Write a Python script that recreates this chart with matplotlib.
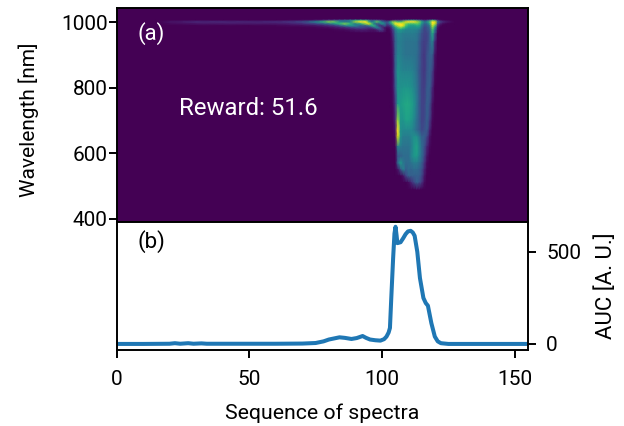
import numpy as np
import matplotlib
matplotlib.use("Agg")
import matplotlib.pyplot as plt

plt.rcParams['font.family'] = ['Roboto', 'DejaVu Sans']

band_wl = [1006, 1000, 994, 988, 982, 976, 970]
band_seq = [15, 20, 30, 40, 50, 60, 65, 70, 75, 78, 80, 82, 84, 86, 88, 90, 92, 94, 95, 96, 97, 98, 99, 100, 101, 102]
band_vals = [
    [0, 0, 0, 0, 0, 0, 0],
    [0, .05, .02, 0, 0, 0, 0],
    [0, .11, .05, 0, 0, 0, 0],
    [0, .11, .06, 0, 0, 0, 0],
    [0, .1, .06, 0, 0, 0, 0],
    [0, .12, .06, .01, 0, 0, 0],
    [.01, .15, .08, .02, 0, 0, 0],
    [.02, .22, .12, .03, 0, 0, 0],
    [.05, .45, .2, .05, .01, 0, 0],
    [.1, .65, .28, .08, .02, 0, 0],
    [.15, .8, .35, .12, .03, 0, 0],
    [.2, .75, .5, .15, .05, .01, 0],
    [.25, .5, .65, .25, .07, .02, 0],
    [.3, .4, .8, .4, .1, .03, 0],
    [.4, .45, .65, .5, .15, .05, .01],
    [.5, .85, .4, .45, .2, .07, .02],
    [.6, 1, .6, .28, .22, .08, .03],
    [.5, 1, .85, .28, .18, .08, .03],
    [.35, .7, .95, .4, .15, .06, .02],
    [.2, .4, .75, .6, .15, .05, .02],
    [.2, .55, .4, .65, .3, .05, .02],
    [.2, .75, .25, .4, .45, .1, .02],
    [.15, .65, .3, .15, .35, .22, .04],
    [.1, .4, .55, .12, .15, .2, .05],
    [.05, .3, .4, .3, .05, .08, .02],
    [0, .25, .2, .1, .02, 0, 0],
]

plume_seq = list(range(102, 128))
plume_wl = [1006, 1000, 994, 988, 982, 976, 965, 940, 900, 850, 800, 750, 700, 670, 650, 620, 590, 570, 550, 530, 510, 490]
plume_vals = [
    [0, 0, .05, .1, .1, .1, .2, .3, .4, .5, .5, .4, .3, .2, .1, .15, .3, .6, .4, .1, .03, .01, 0, 0, 0, 0],
    [.25, .5, .8, .8, .7, .7, .8, .95, 1, 1, 1, .9, .8, .6, .4, .5, .7, 1, .95, .35, .2, .12, .08, .05, .03, .01],
    [.2, .4, .7, 1, 1, 1, .95, .8, .7, .7, .7, .75, .7, .5, .3, .35, .6, 1, .9, .2, .08, .03, .01, 0, 0, 0],
    [.1, .15, .4, .75, .9, 1, .95, .7, .6, .55, .55, .6, .6, .4, .25, .3, .4, .9, .7, .1, .02, 0, 0, 0, 0, 0],
    [.02, .05, .25, .5, .7, .8, .7, .6, .5, .5, .5, .5, .5, .35, .2, .25, .35, .8, .5, .05, 0, 0, 0, 0, 0, 0],
    [0, .02, .15, .4, .55, .55, .5, .45, .45, .45, .45, .45, .4, .3, .2, .25, .3, .7, .4, .03, 0, 0, 0, 0, 0, 0],
    [0, 0, .1, .35, .45, .45, .42, .42, .42, .42, .42, .4, .35, .25, .2, .2, .3, .6, .25, 0, 0, 0, 0, 0, 0, 0],
    [0, 0, .05, .3, .42, .42, .4, .38, .38, .38, .38, .38, .3, .22, .18, .2, .3, .45, .12, 0, 0, 0, 0, 0, 0, 0],
    [0, 0, .03, .3, .45, .43, .4, .38, .38, .38, .38, .36, .3, .2, .16, .25, .3, .3, .05, 0, 0, 0, 0, 0, 0, 0],
    [0, 0, .02, .3, .52, .47, .45, .45, .45, .45, .42, .37, .28, .2, .16, .25, .3, .2, .02, 0, 0, 0, 0, 0, 0, 0],
    [0, 0, .02, .25, .52, .5, .52, .52, .52, .5, .46, .4, .3, .2, .18, .28, .3, .12, 0, 0, 0, 0, 0, 0, 0, 0],
    [0, 0, .01, .15, .55, .55, .58, .6, .6, .58, .52, .42, .3, .2, .2, .3, .25, .05, 0, 0, 0, 0, 0, 0, 0, 0],
    [0, 0, 0, .1, .85, .52, .52, .57, .57, .54, .47, .38, .3, .2, .22, .3, .18, .02, 0, 0, 0, 0, 0, 0, 0, 0],
    [0, 0, 0, .05, 1, .5, .47, .47, .47, .47, .42, .35, .3, .22, .25, .28, .1, 0, 0, 0, 0, 0, 0, 0, 0, 0],
    [0, 0, 0, .03, .95, .5, .42, .42, .42, .45, .5, .5, .42, .3, .3, .2, .05, 0, 0, 0, 0, 0, 0, 0, 0, 0],
    [0, 0, 0, .01, .45, .42, .38, .38, .38, .42, .52, .58, .48, .35, .25, .1, .02, 0, 0, 0, 0, 0, 0, 0, 0, 0],
    [0, 0, 0, 0, .25, .3, .35, .35, .35, .45, .52, .55, .45, .35, .2, .05, 0, 0, 0, 0, 0, 0, 0, 0, 0, 0],
    [0, 0, 0, 0, .35, .55, .4, .35, .35, .38, .42, .42, .38, .3, .15, .02, 0, 0, 0, 0, 0, 0, 0, 0, 0, 0],
    [0, 0, 0, 0, .05, .25, .45, .3, .35, .32, .35, .35, .32, .25, .1, .01, 0, 0, 0, 0, 0, 0, 0, 0, 0, 0],
    [0, 0, 0, 0, 0, 0, .05, .2, .3, .3, .3, .3, .3, .22, .06, 0, 0, 0, 0, 0, 0, 0, 0, 0, 0, 0],
    [0, 0, 0, 0, 0, 0, 0, 0, .03, .1, .2, .3, .25, .15, .03, 0, 0, 0, 0, 0, 0, 0, 0, 0, 0, 0],
    [0, 0, 0, 0, 0, 0, 0, 0, 0, 0, 0, .02, .02, 0, 0, 0, 0, 0, 0, 0, 0, 0, 0, 0, 0, 0],
]

auc_seq = [0, 10, 20, 22, 24, 27, 29, 32, 34, 40, 50, 60, 70, 75, 78, 80, 82, 84, 86, 88.5, 90.5, 92.7, 94, 95.5, 97.5, 99.4, 100.8, 101.7, 102.5, 103, 103.5, 104.2, 104.7, 105.1, 105.5, 105.8, 107, 108, 108.9, 109.8, 110.8, 111.6, 112.3, 113.3, 114.3, 115.6, 116.5, 117.3, 118.6, 119.9, 121, 122.2, 125, 155]
auc_vals = [0, 0, 1, 4, 1, 4, 1, 3, 1, 1, 1, 1, 2, 5, 14, 24, 30, 36, 33, 27, 32, 43, 33, 24, 20, 18, 26, 40, 62, 87, 250, 467, 600, 637, 590, 548, 553, 575, 597, 612, 615, 606, 588, 501, 358, 250, 222, 208, 113, 40, 14, 4, 0, 0]

reward_label = "Reward: 51.6"

W, H = 624, 426
fig = plt.figure(figsize=(W/100, H/100), dpi=100)
L, R, T, M, B = 116.5, 528, 8, 222, 350
ax1 = fig.add_axes([L/W, 1-M/H, (R-L)/W, (M-T)/H])
ax2 = fig.add_axes([L/W, 1-B/H, (R-L)/W, (B-M)/H])
cmap = plt.get_cmap('viridis')
ax1.set_facecolor(cmap(0.0))
ax1.pcolormesh(band_seq, band_wl, np.array(band_vals).T, cmap=cmap, vmin=0, vmax=1, shading='gouraud')
ax1.pcolormesh(plume_seq, plume_wl, np.array(plume_vals), cmap=cmap, vmin=0, vmax=1, shading='gouraud')
ax1.set_xlim(0, 155)
ax1.set_ylim(390, 1043)
ax1.set_yticks([400, 600, 800, 1000])
ax1.set_xticks([])
ax1.set_ylabel('Wavelength [nm]', fontsize=15)
ax1.yaxis.set_label_coords(-0.189, 0.477)
ax1.tick_params(axis='y', labelsize=15, width=1.4, length=6, pad=0.5)
ax1.text(0.052, 0.85, '(a)', transform=ax1.transAxes, color='white', fontsize=16)
ax1.text(0.153, 0.50, reward_label, transform=ax1.transAxes, color='white', fontsize=17.3)

ax2.plot(auc_seq, auc_vals, color='#1f77b4', lw=2.9, solid_joinstyle='round')
ax2.set_xlim(0, 155)
ax2.set_ylim(-33, 663)
ax2.set_xticks([0, 50, 100, 150])
ax2.yaxis.tick_right()
ax2.yaxis.set_label_position('right')
ax2.set_yticks([0, 500])
ax2.set_ylabel('AUC [A. U.]', fontsize=16, labelpad=10)
ax2.set_xlabel('Sequence of spectra', fontsize=15.3, labelpad=10)
ax2.tick_params(axis='both', labelsize=15, width=1.4, length=6)
ax2.tick_params(axis='x', pad=8.5)
ax2.tick_params(axis='y', pad=7)
ax2.text(0.052, 0.80, '(b)', transform=ax2.transAxes, color='black', fontsize=16)
for ax in (ax1, ax2):
    for s in ax.spines.values():
        s.set_linewidth(1.4)
fig.savefig('out.png', dpi=100)
